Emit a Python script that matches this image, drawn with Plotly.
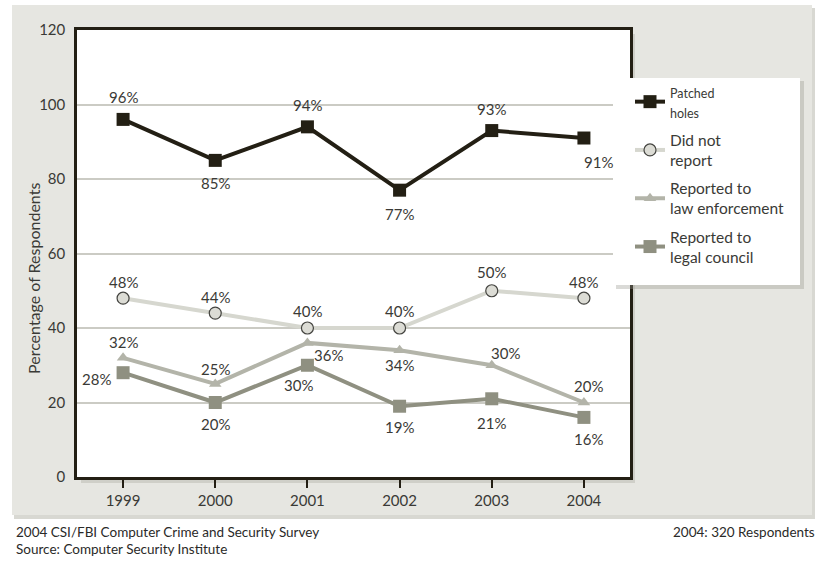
import plotly.graph_objects as go

years = ["1999", "2000", "2001", "2002", "2003", "2004"]
patched = [96, 85, 94, 77, 93, 91]
did_not_report = [48, 44, 40, 40, 50, 48]
law_enforcement = [32, 25, 36, 34, 30, 20]
legal_council = [28, 20, 30, 19, 21, 16]
y_ticks = [0, 20, 40, 60, 80, 100, 120]

# label offsets (pixels, dx right, dy up) per point -- style only
off_patched = [(0, 22), (0, -23), (0, 22), (0, -24), (0, 22), (15, -24)]
off_dnr = [(0, 16), (0, 16), (0, 17), (0, 17), (0, 19), (0, 16)]
off_law = [(0, 16), (0, 15), (21, -12), (0, -15), (14, 12), (5, 17)]
off_legal = [(-27, -6), (0, -21), (-9, -20), (0, -21), (0, -24), (5, -22)]

FONT = "Lato"
TXT = "#3a3a36"

W, H = 817, 562
L, R, T, B = 77, 630, 30, 477

def px_x(p):
    return (p - L) / (R - L)

def px_y(p):
    return (B - p) / (B - T)

fig = go.Figure()
annotations = []

def add(name, y, color, marker, offs, lw=4, group=None):
    fig.add_trace(go.Scatter(
        x=years, y=y, name=name, mode="lines+markers",
        line=dict(color=color, width=lw),
        marker=marker,
        legendgroup=group or name,
        cliponaxis=False,
    ))
    for i, (yv, (dx, dy)) in enumerate(zip(y, offs)):
        annotations.append(dict(
            x=i, y=yv, xref="x", yref="y", text=f"{yv}%", showarrow=False,
            xshift=dx, yshift=dy, xanchor="center", yanchor="middle",
            font=dict(family=FONT, size=15, color=TXT)))

add("<span style='font-size:12.5px'>Patched<br>holes</span>", patched, "#231f14",
    dict(symbol="square", size=13, color="#231f14"), off_patched, group="a")
add("Did not<br>report", did_not_report, "#d6d7cf",
    dict(symbol="circle", size=12, color="#dcdcd5", line=dict(color="#444440", width=1.2)),
    off_dnr, group="b")
add("Reported to<br>law enforcement", law_enforcement, "#b3b4a9",
    dict(symbol="triangle-up", size=11, color="#b3b4a9"), off_law, group="c")
add("Reported to<br>legal council", legal_council, "#8f9081",
    dict(symbol="square", size=13, color="#8f9081"), off_legal, group="d")

shapes = [
    # panel shadow
    dict(type="rect", xref="paper", yref="paper", layer="below",
         x0=px_x(14), x1=px_x(815), y0=px_y(519), y1=px_y(8),
         fillcolor="#d8d8d2", line=dict(width=0)),
    # panel
    dict(type="rect", xref="paper", yref="paper", layer="below",
         x0=px_x(12), x1=px_x(812), y0=px_y(515), y1=px_y(5),
         fillcolor="#e6e6e1", line=dict(width=0)),
    # plot shadow
    dict(type="rect", xref="paper", yref="paper", layer="below",
         x0=px_x(L + 4), x1=px_x(R + 5), y0=px_y(B + 6), y1=px_y(T + 4),
         fillcolor="#cfcfc8", line=dict(width=0)),
    # plot area
    dict(type="rect", xref="paper", yref="paper", layer="below",
         x0=0, x1=1, y0=0, y1=1, fillcolor="white", line=dict(width=0)),
    # legend shadow
    dict(type="rect", xref="paper", yref="paper", layer="above",
         x0=px_x(616), x1=px_x(804), y0=px_y(289), y1=px_y(81),
         fillcolor="rgba(150,150,140,0.35)", line=dict(width=0)),
    # legend box
    dict(type="rect", xref="paper", yref="paper", layer="above",
         x0=px_x(613), x1=px_x(800), y0=px_y(285), y1=px_y(78),
         fillcolor="white", line=dict(width=0)),
]

annotations += [
    dict(text="Percentage of Respondents", xref="paper", yref="paper",
         x=px_x(33), y=px_y(279), xanchor="center", yanchor="middle", textangle=-90,
         showarrow=False, font=dict(family=FONT, size=16, color=TXT)),
    dict(text="2004 CSI/FBI Computer Crime and Security Survey", xref="paper", yref="paper",
         x=px_x(14), y=px_y(532), xanchor="left", yanchor="middle", showarrow=False,
         font=dict(family=FONT, size=13.5, color="#2a2a28")),
    dict(text="Source: Computer Security Institute", xref="paper", yref="paper",
         x=px_x(14), y=px_y(549), xanchor="left", yanchor="middle", showarrow=False,
         font=dict(family=FONT, size=13.5, color="#2a2a28")),
    dict(text="2004: 320 Respondents", xref="paper", yref="paper",
         x=px_x(817), y=px_y(532), xanchor="right", yanchor="middle", showarrow=False,
         font=dict(family=FONT, size=13.5, color="#2a2a28")),
]

fig.update_layout(
    width=W, height=H,
    margin=dict(l=L, r=W - R, t=T, b=H - B, autoexpand=False),
    paper_bgcolor="white", plot_bgcolor="rgba(0,0,0,0)",
    font=dict(family=FONT, color=TXT),
    shapes=shapes, annotations=annotations,
    legend=dict(x=px_x(630), y=px_y(75), xanchor="left", yanchor="top",
                bgcolor="rgba(0,0,0,0)", borderwidth=0,
                font=dict(family=FONT, size=15.5, color=TXT),
                tracegroupgap=5, itemwidth=30),
    xaxis=dict(type="category", range=[-0.5, 5.5], showline=True, mirror=True,
               linecolor="#231f14", linewidth=2.5, showgrid=False,
               ticks="outside", ticklen=8, tickwidth=2, tickcolor="#231f14",
               tickfont=dict(family=FONT, size=15, color=TXT)),
    yaxis=dict(range=[0, 120], tickvals=y_ticks, showline=True, mirror=True,
               linecolor="#231f14", linewidth=2.5, showgrid=True,
               gridcolor="#cbcbc4", gridwidth=2, zeroline=False,
               tickfont=dict(family=FONT, size=15, color=TXT), ticklabelstandoff=6),
)

fig.write_html("out.html", config={"displayModeBar": False},
               post_script="document.body.style.margin='0px';")
